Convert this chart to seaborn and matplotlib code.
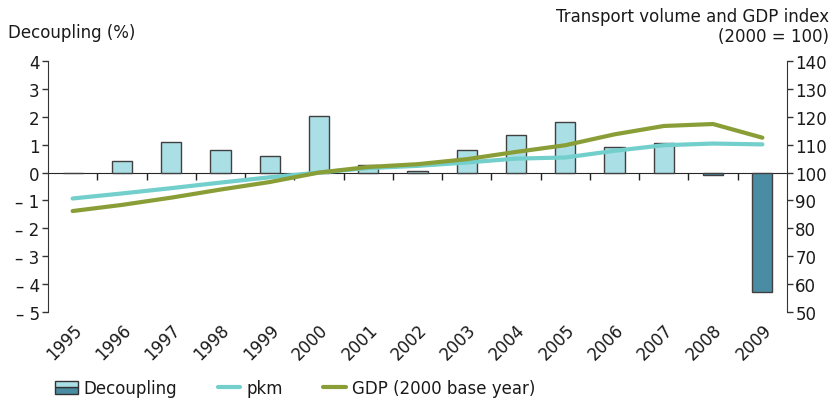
import matplotlib
matplotlib.use("Agg")
import matplotlib.pyplot as plt
import seaborn as sns
import pandas as pd
import numpy as np
from matplotlib.patches import Rectangle
from matplotlib.legend_handler import HandlerBase
from matplotlib.lines import Line2D

years = ["1995", "1996", "1997", "1998", "1999", "2000", "2001", "2002",
         "2003", "2004", "2005", "2006", "2007", "2008", "2009"]
decoupling = [0.0, 0.4, 1.1, 0.8, 0.6, 2.04, 0.27, 0.07, 0.8, 1.33, 1.83, 0.9, 1.07, -0.08, -4.29]
pkm = [90.7, 92.5, 94.4, 96.4, 98.3, 100.0, 101.6, 102.4, 103.6, 105.0, 105.4, 107.8, 109.8, 110.4, 110.1]
gdp = [86.2, 88.4, 91.0, 93.9, 96.6, 100.0, 102.0, 103.0, 104.8, 107.4, 109.8, 113.7, 116.7, 117.4, 112.5]
left_ticks = [4, 3, 2, 1, 0, -1, -2, -3, -4, -5]
left_labels = ["4", "3", "2", "1", "0", "– 1", "– 2", "– 3", "– 4", "– 5"]
right_ticks = [50, 60, 70, 80, 90, 100, 110, 120, 130, 140]

LIGHT = "#ABDFE6"
DARK = "#4A8CA3"
PKM_C = "#72CFCB"
GDP_C = "#8A9E37"
TXT = "#1a1a1a"

sns.set_style("white")
plt.rcParams["font.family"] = ["DejaVu Sans"]
plt.rcParams["font.size"] = 11

fig = plt.figure(figsize=(8.36, 4.02), dpi=100)
ax = fig.add_axes([48/836, 1-313/402, (787-48)/836, (313-62)/402])

df = pd.DataFrame({"year": years, "value": decoupling,
                   "sign": ["neg" if v < 0 else "pos" for v in decoupling]})
sns.barplot(data=df, x="year", y="value", hue="sign", dodge=False,
            palette={"pos": LIGHT, "neg": DARK}, hue_order=["pos", "neg"],
            saturation=1, width=0.41, edgecolor="#404040", linewidth=1.0,
            ax=ax, legend=False)

ax.set_xlim(-0.5, len(years) - 0.5)
ax.set_ylim(-5, 4)
ax.set_yticks(left_ticks)
ax.set_yticklabels(left_labels)
ax.set_xlabel("")
ax.set_ylabel("")
for s in ["top", "bottom", "right"]:
    ax.spines[s].set_visible(False)
ax.spines["left"].set_color("#333333")
ax.tick_params(axis="y", direction="out", length=4, width=1, color="#333333",
               labelcolor=TXT, labelsize=12, pad=2)
ax.set_xticks(range(len(years)))
ax.set_xticklabels(years, rotation=45, ha="right", va="top", rotation_mode="anchor",
                   fontsize=12, color=TXT)
ax.tick_params(axis="x", length=0, pad=6)

# zero axis with tick marks between categories
sec = ax.secondary_xaxis(5/9)
sec.set_xticks(np.arange(0.5, len(years) - 1, 1.0))
sec.set_xticklabels([])
sec.tick_params(axis="x", direction="in", length=5, width=1, color="#222222")
sec.spines["bottom"].set_color("#222222")
sec.spines["bottom"].set_linewidth(1.0)

ax2 = ax.twinx()
xs = np.arange(len(years))
sns.lineplot(x=xs, y=pkm, color=PKM_C, linewidth=3.0, ax=ax2)
sns.lineplot(x=xs, y=gdp, color=GDP_C, linewidth=3.0, ax=ax2)
ax2.set_ylim(50, 140)
ax2.set_yticks(right_ticks)
for s in ["top", "bottom", "left"]:
    ax2.spines[s].set_visible(False)
ax2.spines["right"].set_color("#333333")
ax2.tick_params(axis="y", direction="out", length=4, width=1, color="#333333",
                labelcolor=TXT, labelsize=12, pad=2)
ax2.set_xlim(-0.5, len(years) - 0.5)

fig.text(8/836, 1-33/402, "Decoupling (%)", fontsize=12, color=TXT, va="center", ha="left")
fig.text(829/836, 1-27/402, "Transport volume and GDP index\n(2000 = 100)", fontsize=12,
         color=TXT, va="center", ha="right", multialignment="right", linespacing=1.15)


class SplitPatchHandler(HandlerBase):
    def create_artists(self, legend, orig_handle, xdescent, ydescent, width, height, fontsize, trans):
        h = height
        top = Rectangle((-xdescent, -ydescent + h/2), width, h/2, facecolor=LIGHT,
                        edgecolor="#333333", linewidth=1.0, transform=trans)
        bot = Rectangle((-xdescent, -ydescent), width, h/2, facecolor=DARK,
                        edgecolor="#333333", linewidth=1.0, transform=trans)
        return [bot, top]


split = Rectangle((0, 0), 1, 1)
handles = [split,
           Line2D([], [], color=PKM_C, linewidth=3.0),
           Line2D([], [], color=GDP_C, linewidth=3.0)]
labels = ["Decoupling", "pkm", "GDP (2000 base year)"]
fig.legend(handles, labels, loc="center left", bbox_to_anchor=(40/836, 1-389/402),
           ncol=3, frameon=False, fontsize=12, handlelength=1.35, handleheight=0.85,
           handletextpad=0.35, columnspacing=2.45, labelcolor=TXT,
           handler_map={Rectangle: SplitPatchHandler()})

fig.savefig("out.png", dpi=100)
